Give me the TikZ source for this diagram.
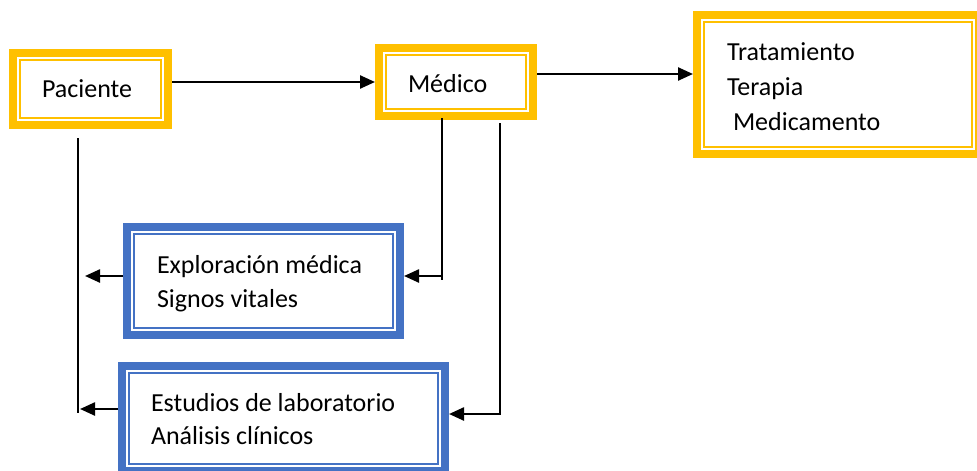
\documentclass[tikz,border=0pt]{standalone}
\usepackage{fontspec}
\setmainfont{Carlito}
\usetikzlibrary{arrows.meta}
\definecolor{gold}{HTML}{FFC000}
\definecolor{wblue}{HTML}{4472C4}
\newcommand{\natsp}{\spaceskip=0pt\xspaceskip=0pt\relax}
\begin{document}
\begin{tikzpicture}[x=1pt,y=-1pt,
  box/.style={rectangle, line width=8pt, inner sep=0pt, align=left,
    font=\fontsize{26}{34}\selectfont},
  obox/.style={box, draw=gold},
  bbox/.style={box, draw=wblue},
  thinline/.style={line width=2pt},
  conn/.style={line width=1.8pt, black},
  arr/.style={line width=2.4pt, black, -{Triangle[length=15pt,width=13pt]}}]
\useasboundingbox (0,0) rectangle (977,471);
% boxes
\node[obox, minimum width=155pt, minimum height=72pt, text width=97pt,
  text height=20pt, text depth=4pt] (pac) at (90.5,89) {Paciente};
\node[obox, minimum width=154pt, minimum height=68pt, text width=96pt,
  text height=22pt, text depth=2pt] (med) at (456,82) {Médico};
\node[obox, minimum width=282pt, minimum height=139pt, text width=222pt,
  text height=20pt, text depth=69pt, font=\fontsize{26}{35}\selectfont]
  (trt) at (838,84.5) {Tratamiento\\Terapia\\\hspace*{6pt}Medicamento};
\node[bbox, minimum width=273pt, minimum height=108pt, text width=213pt,
  text height=20pt, text depth=36pt] (exp) at (263.5,281)
  {\natsp Exploración médica\\Signos vitales};
\node[bbox, minimum width=323pt, minimum height=105pt, text width=265pt,
  text height=20pt, text depth=35pt, font=\fontsize{26}{33}\selectfont]
  (est) at (283.5,418.5) {\natsp Estudios de laboratorio\\Análisis clínicos};
% inner thin borders
\foreach \n in {pac,med,trt}
  \draw[thinline, gold] ([shift={(11pt,-11pt)}]\n.north west) rectangle ([shift={(-11pt,11pt)}]\n.south east);
\foreach \n in {exp,est}
  \draw[thinline, wblue] ([shift={(11pt,-11pt)}]\n.north west) rectangle ([shift={(-11pt,11pt)}]\n.south east);
% connectors
\draw[arr] (pac.east |- med.west) -- (med.west);
\coordinate (m1) at ([yshift=8pt]med.east);
\draw[arr] (m1) -- (m1 -| trt.west);
\coordinate (j1) at (442,276);
\draw[conn] ([yshift=2pt]med.south -| j1) -- ([yshift=-4pt]j1);
\draw[arr] (j1) -- (exp.east |- j1);
\coordinate (j2) at (500,414);
\draw[conn] ([yshift=-3pt]med.south -| j2) -- ([yshift=-1pt]j2);
\draw[arr] (j2) -- (est.east |- j2);
\coordinate (j3) at (78,413);
\draw[conn] ([yshift=-9pt]pac.south -| j3) -- (j3);
\coordinate (t1) at (85,276);
\draw[arr] (exp.west |- t1) -- (t1);
\coordinate (t2) at (80,409);
\draw[arr] (est.west |- t2) -- (t2);
\end{tikzpicture}
\end{document}
